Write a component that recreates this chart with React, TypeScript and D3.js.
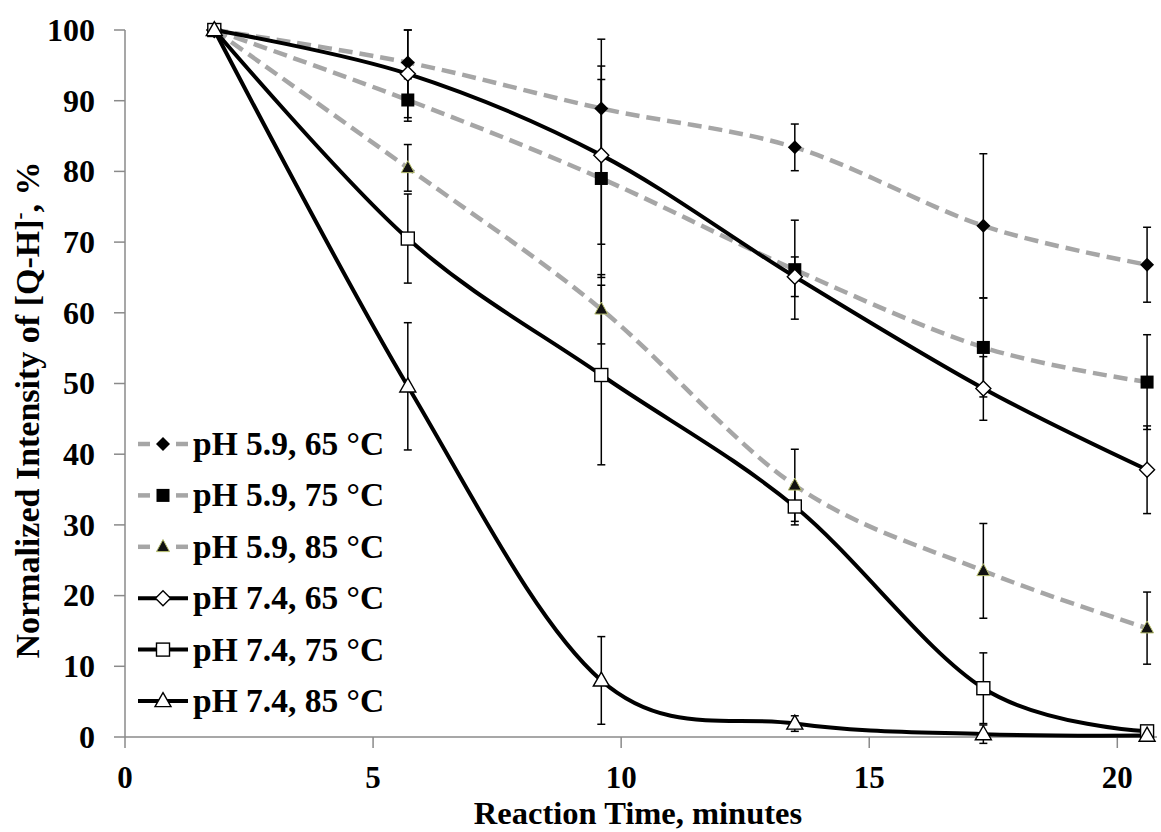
import React from 'react';
import * as d3 from 'd3';

const TIMES = [1.8, 5.7, 9.6, 13.5, 17.3, 20.6];

const PH59_65 = [100, 95.4, 88.9, 83.4, 72.3, 66.8];
const PH59_65_ERR = [0, 4.6, 9.8, 3.3, 10.2, 5.3];
const PH59_75 = [100, 90.1, 79.0, 66.1, 55.1, 50.2];
const PH59_75_ERR = [0, 3.0, 14.0, 7.0, 7.0, 6.7];
const PH59_85 = [100, 80.5, 60.5, 35.6, 23.5, 15.4];
const PH59_85_ERR = [0, 3.3, 4.9, 5.1, 6.7, 5.1];
const PH74_65 = [100, 93.8, 82.3, 65.1, 49.3, 37.8];
const PH74_65_ERR = [0, 6.2, 12.6, 2.8, 4.5, 6.2];
const PH74_75 = [100, 70.5, 51.2, 32.6, 6.9, 0.8];
const PH74_75_ERR = [0, 6.3, 12.7, 2.6, 5.0, 0.5];
const PH74_85 = [100, 49.6, 8.0, 1.9, 0.4, 0.2];
const PH74_85_ERR = [0, 9.0, 6.2, 1.1, 1.3, 0.3];

const SERIES_NAMES = [
  'pH 5.9, 65 °C',
  'pH 5.9, 75 °C',
  'pH 5.9, 85 °C',
  'pH 7.4, 65 °C',
  'pH 7.4, 75 °C',
  'pH 7.4, 85 °C',
];
const SERIES_VALUES = [PH59_65, PH59_75, PH59_85, PH74_65, PH74_75, PH74_85];
const SERIES_ERRS = [PH59_65_ERR, PH59_75_ERR, PH59_85_ERR, PH74_65_ERR, PH74_75_ERR, PH74_85_ERR];
const SERIES_MARKERS = ['diamondFilled', 'squareFilled', 'triangleFilled', 'diamondOpen', 'squareOpen', 'triangleOpen'];
const SERIES_DASHED = [true, true, true, false, false, false];

const X_TICKS = [0, 5, 10, 15, 20];
const Y_TICKS = [0, 10, 20, 30, 40, 50, 60, 70, 80, 90, 100];

const W = 1161;
const H = 832;
const FONT = "'Liberation Serif','Times New Roman',serif";

const x = d3.scaleLinear().domain([0, 20.8]).range([125, 1157]);
const y = d3.scaleLinear().domain([0, 100]).range([737, 30]);

function Marker({ type, cx, cy }: { type: string; cx: number; cy: number }) {
  switch (type) {
    case 'diamondFilled': {
      const r = 7;
      return <path d={`M${cx},${cy - r}L${cx + r},${cy}L${cx},${cy + r}L${cx - r},${cy}Z`} fill="#000" />;
    }
    case 'diamondOpen': {
      const r = 7.5;
      return <path d={`M${cx},${cy - r}L${cx + r},${cy}L${cx},${cy + r}L${cx - r},${cy}Z`} fill="#fff" stroke="#000" strokeWidth={1.4} />;
    }
    case 'squareFilled': {
      const s = 13;
      return <rect x={cx - s / 2} y={cy - s / 2} width={s} height={s} fill="#000" />;
    }
    case 'squareOpen': {
      const s = 13;
      return <rect x={cx - s / 2} y={cy - s / 2} width={s} height={s} fill="#fff" stroke="#000" strokeWidth={1.4} />;
    }
    case 'triangleFilled': {
      const w = 13, h = 12;
      return <path d={`M${cx},${cy - h * 0.6}L${cx + w / 2},${cy + h * 0.4}L${cx - w / 2},${cy + h * 0.4}Z`} fill="#111" stroke="#b8bf6e" strokeWidth={1} />;
    }
    case 'triangleOpen': {
      const w = 16, h = 14;
      return <path d={`M${cx},${cy - h * 0.6}L${cx + w / 2},${cy + h * 0.4}L${cx - w / 2},${cy + h * 0.4}Z`} fill="#fff" stroke="#000" strokeWidth={1.4} />;
    }
  }
  return null;
}

export default function App() {
  const line = d3
    .line<number>()
    .x((_, i) => x(TIMES[i]))
    .y((d) => y(d))
    .curve(d3.curveCatmullRom.alpha(0));

  const axisColor = '#8a8a8a';
  const legendY0 = 444;
  const legendStep = 51.4;

  return (
    <svg
      width={W}
      height={H}
      style={{ position: 'absolute', left: 0, top: 0, background: '#fff' }}
      fontFamily={FONT}
      fontWeight="bold"
    >
      <rect x={0} y={0} width={W} height={H} fill="#fff" />

      {/* axes */}
      <line x1={x(0)} x2={x(0)} y1={y(100)} y2={y(0)} stroke={axisColor} strokeWidth={1.5} />
      <line x1={x(0)} x2={x(20.8)} y1={y(0)} y2={y(0)} stroke={axisColor} strokeWidth={1.5} />
      {Y_TICKS.map((t) => (
        <g key={`yt${t}`}>
          <line x1={x(0) - 11} x2={x(0)} y1={y(t)} y2={y(t)} stroke={axisColor} strokeWidth={1.5} />
          <text x={95} y={y(t)} dy="0.34em" textAnchor="end" fontSize={32} fill="#000">
            {t}
          </text>
        </g>
      ))}
      {X_TICKS.map((t) => (
        <g key={`xt${t}`}>
          <line x1={x(t)} x2={x(t)} y1={y(0)} y2={y(0) + 11} stroke={axisColor} strokeWidth={1.5} />
          <text x={x(t)} y={788} textAnchor="middle" fontSize={31} fill="#000">
            {t}
          </text>
        </g>
      ))}

      <text x={638} y={824} textAnchor="middle" fontSize={32.5} fill="#000">
        Reaction Time, minutes
      </text>
      <text transform="translate(39,410) rotate(-90)" textAnchor="middle" fontSize={34} fill="#000">
        Normalized Intensity of [Q-H]
        <tspan fontSize={21} dy={-13}>-</tspan>
        <tspan dy={13}>, %</tspan>
      </text>

      {/* lines */}
      {SERIES_VALUES.map((vals, si) => (
        <path
          key={`l${si}`}
          d={line(vals) || ''}
          fill="none"
          stroke={SERIES_DASHED[si] ? '#a6a6a6' : '#000'}
          strokeWidth={SERIES_DASHED[si] ? 4.5 : 4}
          strokeDasharray={SERIES_DASHED[si] ? '14,7' : undefined}
        />
      ))}

      {/* error bars */}
      {SERIES_VALUES.map((vals, si) =>
        vals.map((v, i) => {
          const e = SERIES_ERRS[si][i];
          if (!e) return null;
          const cx = x(TIMES[i]);
          return (
            <g key={`e${si}-${i}`} stroke="#000" strokeWidth={1.5}>
              <line x1={cx} x2={cx} y1={y(v + e)} y2={y(v - e)} />
              <line x1={cx - 4} x2={cx + 4} y1={y(v + e)} y2={y(v + e)} />
              <line x1={cx - 4} x2={cx + 4} y1={y(v - e)} y2={y(v - e)} />
            </g>
          );
        })
      )}

      {/* markers */}
      {SERIES_VALUES.map((vals, si) =>
        vals.map((v, i) => <Marker key={`m${si}-${i}`} type={SERIES_MARKERS[si]} cx={x(TIMES[i])} cy={y(v)} />)
      )}

      {/* legend */}
      {SERIES_NAMES.map((name, si) => {
        const cy = legendY0 + si * legendStep;
        return (
          <g key={`lg${si}`}>
            {SERIES_DASHED[si] ? (
              <>
                <line x1={138} x2={150} y1={cy} y2={cy} stroke="#a6a6a6" strokeWidth={4.5} />
                <line x1={176} x2={188} y1={cy} y2={cy} stroke="#a6a6a6" strokeWidth={4.5} />
              </>
            ) : (
              <line x1={138} x2={188} y1={cy} y2={cy} stroke="#000" strokeWidth={4} />
            )}
            <Marker type={SERIES_MARKERS[si]} cx={163} cy={cy} />
            <text x={193} y={cy + 11} fontSize={33.5} fill="#000">
              {name}
            </text>
          </g>
        );
      })}
    </svg>
  );
}
